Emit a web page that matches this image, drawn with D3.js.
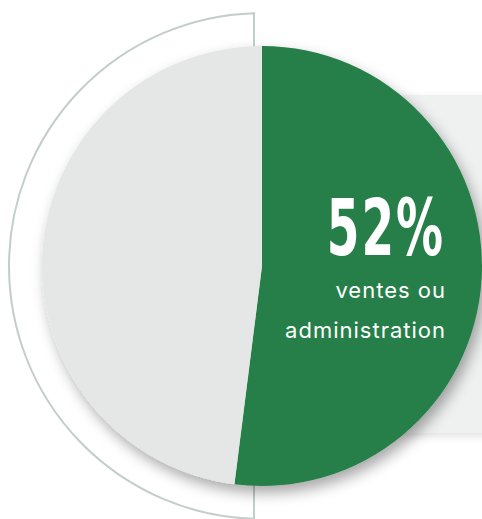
<!DOCTYPE html>
<html>
<head>
<meta charset="utf-8">
<script src="https://cdn.jsdelivr.net/npm/d3@7"></script>
<style>
  html, body { margin: 0; padding: 0; background: #fff; }
  svg { display: block; }
</style>
</head>
<body>
<svg id="chart" width="482" height="519"></svg>
<script>
// data
const categories = ['ventes ou administration', 'autre'];
const values = [52, 48];
const colors = ['#277f48', '#e5e7e6'];
const bigLabel = '52%';
const labelLines = ['ventes ou', 'administration'];

const width = 482, height = 519;
const cx = 262, cy = 266, r = 220;
const ringR = 253;

const svg = d3.select('#chart');
const defs = svg.append('defs');

defs.append('filter').attr('id', 'pieShadow')
  .attr('x', '-20%').attr('y', '-20%').attr('width', '140%').attr('height', '140%')
  .append('feDropShadow')
  .attr('dx', 4).attr('dy', 7).attr('stdDeviation', 7)
  .attr('flood-color', '#000').attr('flood-opacity', 0.34);

defs.append('filter').attr('id', 'boxShadow')
  .attr('x', '-20%').attr('y', '-20%').attr('width', '140%').attr('height', '140%')
  .append('feDropShadow')
  .attr('dx', 0).attr('dy', 3).attr('stdDeviation', 4)
  .attr('flood-color', '#000').attr('flood-opacity', 0.12);

// grey panel behind the right side
svg.append('rect')
  .attr('x', 380).attr('y', 95)
  .attr('width', 120).attr('height', 338)
  .attr('fill', '#eff0f0')
  .attr('filter', 'url(#boxShadow)');

// outer ring (left half + vertical line)
const dx = cx - 254;
const dy = Math.sqrt(ringR * ringR - dx * dx);
const a0 = Math.atan2(-dy, -dx);
const a1 = Math.atan2(dy, -dx);
const ring = d3.path();
ring.moveTo(254, cy - dy);
ring.arc(cx, cy, ringR, a0, a1, true);
ring.closePath();
svg.append('path')
  .attr('d', ring.toString())
  .attr('fill', 'none')
  .attr('stroke', '#c3cdc9')
  .attr('stroke-width', 2);

// pie
const pie = d3.pie().sort(null).value(d => d);
const arc = d3.arc().innerRadius(0).outerRadius(r);

const g = svg.append('g')
  .attr('transform', `translate(${cx},${cy})`)
  .attr('filter', 'url(#pieShadow)');

g.selectAll('path')
  .data(pie(values))
  .enter()
  .append('path')
  .attr('d', arc)
  .attr('fill', (d, i) => colors[i]);

// labels
svg.append('g')
  .attr('transform', 'translate(445,255) scale(0.66,1)')
  .append('text')
  .attr('text-anchor', 'end')
  .attr('fill', '#fff')
  .attr('font-family', '"Liberation Sans Narrow", "DejaVu Sans Condensed", sans-serif')
  .attr('font-weight', 700)
  .attr('font-size', 79)
  .attr('letter-spacing', 3)
  .text(bigLabel);

svg.selectAll('text.sub')
  .data(labelLines)
  .enter()
  .append('text')
  .attr('class', 'sub')
  .attr('x', 446)
  .attr('y', (d, i) => 298 + i * 40)
  .attr('text-anchor', 'end')
  .attr('fill', '#fff')
  .attr('font-family', 'Inter, "Open Sans", sans-serif')
  .attr('font-size', 22)
  .attr('letter-spacing', 1)
  .text(d => d);
</script>
</body>
</html>
